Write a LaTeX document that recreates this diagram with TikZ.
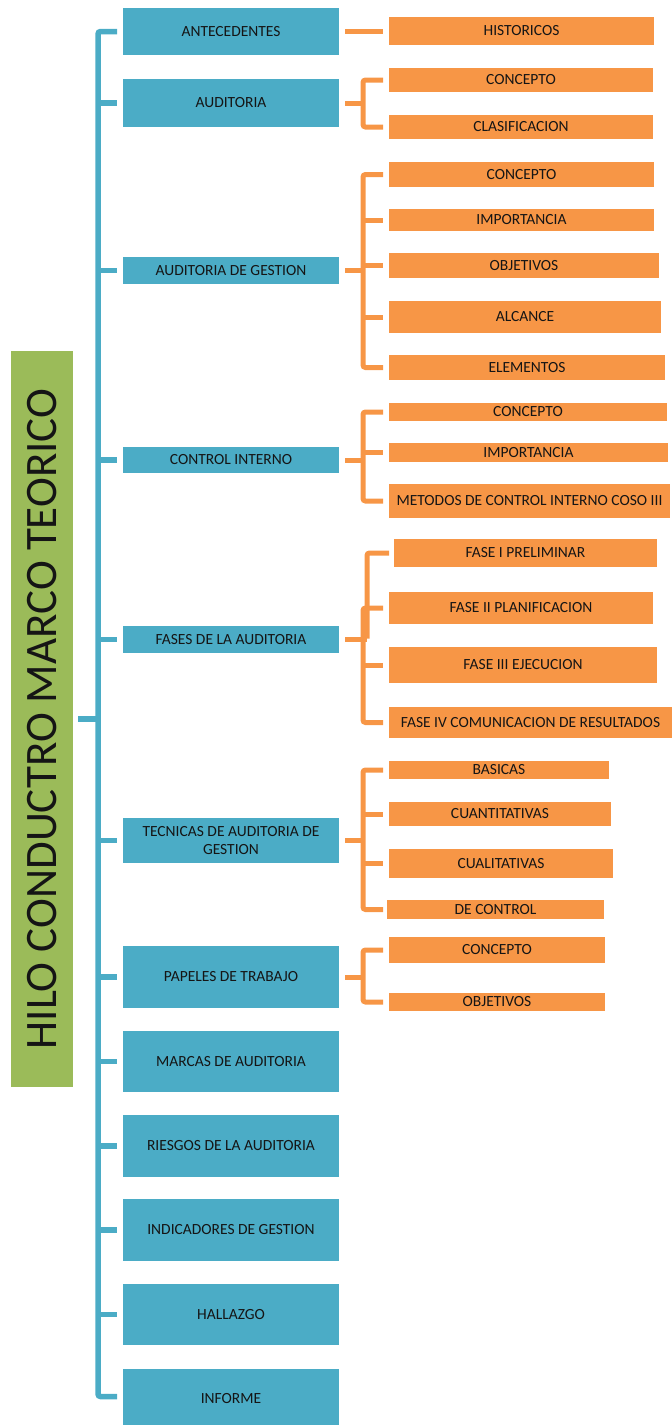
\documentclass[tikz,border=0pt]{standalone}
\usepackage{fontspec}
\setmainfont{Carlito}
\definecolor{cblue}{HTML}{4BACC6}
\definecolor{corange}{HTML}{F79646}
\definecolor{cgreen}{HTML}{9BBB59}
\definecolor{ctext}{HTML}{151515}
\newcommand\mkbox[7]{\node[#1, minimum width={(#5-#3)*1pt}, minimum height={(#6-#4)*1pt}] (#2) at ({(#3+#5)/2},{(#4+#6)/2}) {#7};}
\begin{document}
\begin{tikzpicture}[x=1pt,y=-1pt,
  boxbase/.style={inner sep=0pt, outer sep=0pt, align=center, text=ctext, font=\fontsize{15.5}{18}\selectfont},
  bbox/.style={boxbase, fill=cblue},
  obox/.style={boxbase, fill=corange},
  gbox/.style={inner sep=0pt, outer sep=0pt, fill=cgreen},
  bl/.style={draw=cblue, line width=5.5pt, rounded corners=2.5pt},
  ol/.style={draw=corange, line width=5pt, rounded corners=2.5pt}]
\useasboundingbox (0,0) rectangle (672,1425);
\coordinate (sx) at (98,0);
\coordinate (bx) at (363,0);
\coordinate (bxa) at (367,0);
% title
\mkbox{gbox}{g}{11}{351}{73}{1087}{}
\node[rotate=90, inner sep=0pt, text=ctext, font=\fontsize{45}{54}\selectfont] (gt) at (g.center) {HILO CONDUCTRO MARCO TEORICO};
% blue boxes
\mkbox{bbox}{n1}{123}{8}{339}{55}{ANTECEDENTES}
\mkbox{bbox}{n2}{123}{79}{339}{127}{AUDITORIA}
\mkbox{bbox}{n3}{123}{257}{339}{284}{AUDITORIA DE GESTION}
\mkbox{bbox}{n4}{123}{447}{339}{473}{CONTROL INTERNO}
\mkbox{bbox}{n5}{123}{626}{339}{653}{FASES DE LA AUDITORIA}
\mkbox{bbox}{n6}{123}{818}{339}{863}{TECNICAS DE AUDITORIA DE\\GESTION}
\mkbox{bbox}{n7}{123}{946}{339}{1008}{PAPELES DE TRABAJO}
\mkbox{bbox}{n8}{123}{1031}{339}{1092}{MARCAS DE AUDITORIA}
\mkbox{bbox}{n9}{123}{1115}{339}{1177}{RIESGOS DE LA AUDITORIA}
\mkbox{bbox}{n10}{123}{1199}{339}{1261}{INDICADORES DE GESTION}
\mkbox{bbox}{n11}{123}{1284}{339}{1345}{HALLAZGO}
\mkbox{bbox}{n12}{123}{1369}{339}{1428}{INFORME}
% orange boxes
\mkbox{obox}{h1}{389}{17}{654}{45}{HISTORICOS}
\mkbox{obox}{u1}{389}{68}{653}{92}{CONCEPTO}
\mkbox{obox}{u2}{389}{115}{653}{139}{CLASIFICACION}
\mkbox{obox}{a1}{389}{162}{654}{187}{CONCEPTO}
\mkbox{obox}{a2}{389}{209}{654}{231}{IMPORTANCIA}
\mkbox{obox}{a3}{389}{253}{659}{278}{OBJETIVOS}
\mkbox{obox}{a4}{389}{301}{661}{333}{ALCANCE}
\mkbox{obox}{a5}{389}{355}{665}{380}{ELEMENTOS}
\mkbox{obox}{c1}{389}{403}{667}{421}{CONCEPTO}
\mkbox{obox}{c2}{389}{443}{668}{462}{IMPORTANCIA}
\mkbox{obox}{c3}{389}{484}{670}{518}{METODOS DE CONTROL INTERNO COSO III}
\mkbox{obox}{f1}{394}{539}{657}{567}{FASE I PRELIMINAR}
\mkbox{obox}{f2}{389}{592}{653}{624}{FASE II PLANIFICACION}
\mkbox{obox}{f3}{389}{647}{657}{683}{FASE III EJECUCION}
\mkbox{obox}{f4}{389}{707}{672}{738}{FASE IV COMUNICACION DE RESULTADOS}
\mkbox{obox}{t1}{389}{761}{609}{779}{BASICAS}
\mkbox{obox}{t2}{389}{802}{611}{826}{CUANTITATIVAS}
\mkbox{obox}{t3}{389}{849}{613}{878}{CUALITATIVAS}
\mkbox{obox}{t4}{387}{900}{604}{919}{DE CONTROL}
\mkbox{obox}{p1}{389}{937}{605}{963}{CONCEPTO}
\mkbox{obox}{p2}{389}{993}{605}{1011}{OBJETIVOS}
% blue spine
\draw[bl] ([xshift=-6pt]n1.west) -- (n1.west -| sx) -- ([yshift=2pt]n12.west -| sx) -- ([xshift=-6pt,yshift=2pt]n12.west);
\foreach \n in {n2,n3,n4,n5,n6,n7,n8,n9,n10,n11}
  \draw[bl] (\n.west -| sx) -- ([xshift=-6pt]\n.west);
\draw[bl] ([xshift=5pt]g.east) -- (g.east -| sx);
% antecedentes
\draw[ol] ([xshift=6pt]n1.east) -- ([xshift=-6pt]h1.west |- n1.east);
% generic brackets
\draw[ol] ([xshift=6pt]n2.east) -- (n2.east -| bx);
\draw[ol] ([xshift=-6pt]u1.west) -- (u1.west -| bx) -- (u2.west -| bx) -- ([xshift=-6pt]u2.west);
\draw[ol] ([xshift=6pt]n3.east) -- (n3.east -| bx);
\draw[ol] ([xshift=-6pt]a1.west) -- (a1.west -| bx) -- (a5.west -| bx) -- ([xshift=-6pt]a5.west);
\foreach \n in {a2,a3,a4} \draw[ol] (\n.west -| bx) -- ([xshift=-6pt]\n.west);
\draw[ol] ([xshift=6pt]n4.east) -- (n4.east -| bx);
\draw[ol] ([xshift=-6pt]c1.west) -- (c1.west -| bx) -- (c3.west -| bx) -- ([xshift=-6pt]c3.west);
\draw[ol] (c2.west -| bx) -- ([xshift=-6pt]c2.west);
% fases (offset bracket)
\draw[ol] ([xshift=6pt]n5.east) -- (n5.east -| bxa);
\draw[ol] ([xshift=-5pt]f1.west) -- (f1.west -| bxa) -- ([yshift=1pt]n5.east -| bxa);
\draw[ol] ([xshift=-6pt]f2.west) -- (f2.west -| bx) -- (f4.west -| bx) -- ([xshift=-6pt]f4.west);
\draw[ol] (f3.west -| bx) -- ([xshift=-6pt]f3.west);
% tecnicas
\draw[ol] ([xshift=6pt]n6.east) -- (n6.east -| bx);
\draw[ol] ([xshift=-6pt]t1.west) -- (t1.west -| bx) -- (t4.west -| bx) -- ([xshift=-4pt]t4.west);
\foreach \n in {t2,t3} \draw[ol] (\n.west -| bx) -- ([xshift=-6pt]\n.west);
% papeles
\draw[ol] ([xshift=6pt]n7.east) -- (n7.east -| bx);
\draw[ol] ([xshift=-6pt]p1.west) -- (p1.west -| bx) -- (p2.west -| bx) -- ([xshift=-6pt]p2.west);
\end{tikzpicture}
\end{document}
